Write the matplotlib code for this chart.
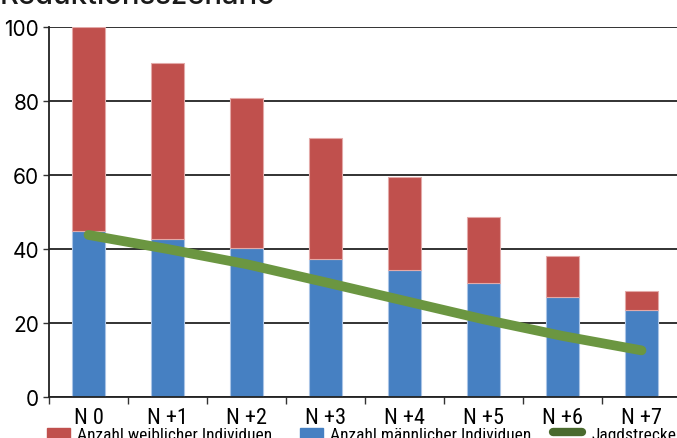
import matplotlib
matplotlib.use('Agg')
import matplotlib.pyplot as plt
from matplotlib.patches import Rectangle
from matplotlib.lines import Line2D
from matplotlib import font_manager
import numpy as np

# Reduktionsszenario: Bestand nach Geschlecht und Jagdstrecke je Jahr
jahre = ['N 0', 'N +1', 'N +2', 'N +3', 'N +4', 'N +5', 'N +6', 'N +7']
maennlich = [44.8, 42.8, 40.4, 37.4, 34.2, 30.7, 27.0, 23.4]
weiblich = [55.2, 47.6, 40.3, 32.7, 25.3, 18.0, 11.1, 5.3]
jagdstrecke = [43.8, 40.0, 35.9, 31.0, 26.0, 21.0, 16.5, 12.6]
yticks = [0, 20, 40, 60, 80, 100]

rot = '#c0504d'
blau = '#4680c2'
gruen = '#6b9641'

# pick a narrow face if one is around
names = {f.name for f in font_manager.fontManager.ttflist}
narrow = [n for n in ['Roboto Condensed', 'DejaVu Sans Condensed', 'Liberation Sans Narrow',
                      'Open Sans Condensed'] if n in names]
narrow = narrow[:1] + ['DejaVu Sans']
stretch = 'condensed'
fig_title = 'Reduktionsszenario'

fig = plt.figure(figsize=(6.77, 4.39), dpi=100)
W, H = 677, 439
# axes spans 49..681 px horizontally, 398..28 px vertically
ax = fig.add_axes([49 / W, 1 - 398 / H, 632 / W, 370 / H])

x = np.arange(len(jahre))
ax.bar(x, maennlich, width=0.41, color=blau, edgecolor='#a9c4e6', linewidth=0.8, zorder=2)
ax.bar(x, weiblich, bottom=maennlich, width=0.41, color=rot, edgecolor='#e3a9a8',
       linewidth=0.8, zorder=2)
ax.plot(x, jagdstrecke, color=gruen, lw=7, solid_capstyle='round', zorder=3)

ax.set_xlim(-0.5, 7.5)
ax.set_ylim(0, 100)
ax.set_yticks(yticks)
ax.set_yticklabels([str(v) for v in yticks], fontsize=15, family='Inter')
ax.yaxis.grid(True, color='#222222', lw=1.3, zorder=1)
ax.set_axisbelow(True)

# category labels centred, tick marks on the boundaries
ax.set_xticks(x)
ax.set_xticklabels(jahre, fontsize=16, family=narrow, fontstretch=stretch)
ax.set_xticks(np.arange(-0.5, 7.6, 1), minor=True)
ax.tick_params(axis='x', which='major', length=0, pad=7)
ax.tick_params(axis='x', which='minor', length=5, width=1, color='#333333')
ax.tick_params(axis='y', length=4, width=1, color='#333333', pad=3)

for s in ['top', 'right']:
    ax.spines[s].set_visible(False)
ax.spines['left'].set_color('#222222')
ax.spines['bottom'].set_color('#222222')
ax.spines['left'].set_linewidth(1.3)
ax.spines['bottom'].set_linewidth(1.3)

# title, mostly above the visible area
fig.text(0.0, 1 - 4 / H, fig_title, fontsize=21, family='Inter', fontweight='medium',
         va='baseline', ha='left', color='#1a1a1a')

# legend along the lower edge
fig.patches.append(Rectangle((47 / W, 0), 23 / W, 10 / H, transform=fig.transFigure,
                             color=rot, figure=fig))
fig.patches.append(Rectangle((300 / W, 0), 23 / W, 10 / H, transform=fig.transFigure,
                             color=blau, figure=fig))
fig.lines.append(Line2D([553 / W, 582 / W], [1 - 433 / H, 1 - 433 / H], transform=fig.transFigure,
                        color='#4a6a2e', lw=6, solid_capstyle='round', figure=fig))
leg_y = 1 - 428 / H
for lx, txt in [(77, 'Anzahl weiblicher Individuen'), (330, 'Anzahl männlicher Individuen'),
                (592, 'Jagdstrecke')]:
    fig.text(lx / W, leg_y, txt, fontsize=12.5, family=narrow, fontstretch=stretch, va='top')

fig.savefig('out.png', dpi=100)
